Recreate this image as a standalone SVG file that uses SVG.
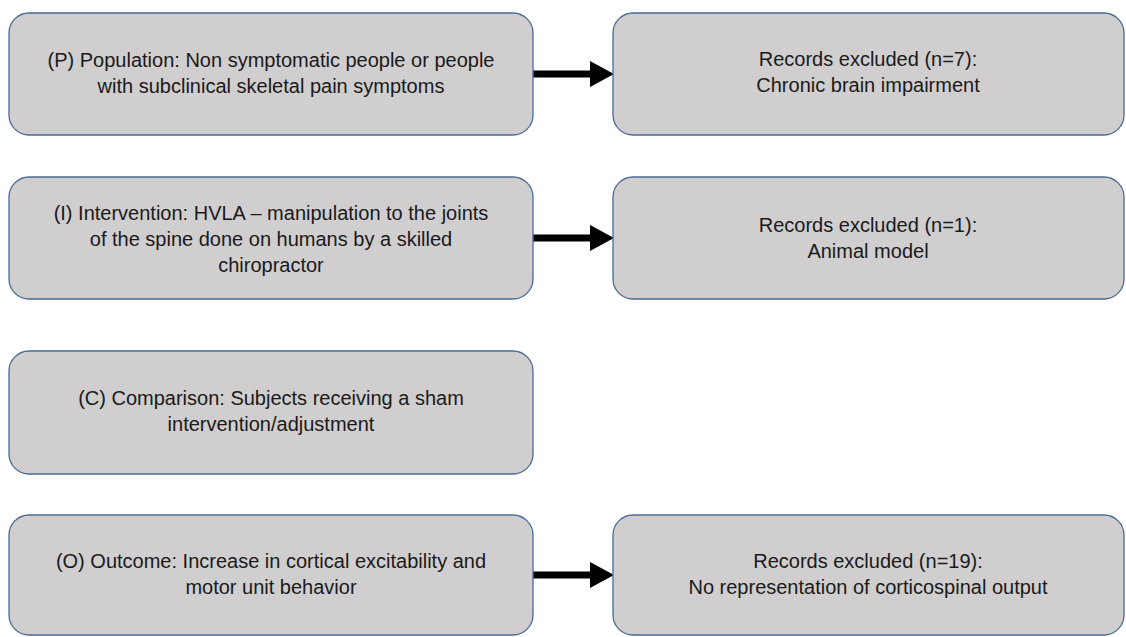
<svg xmlns="http://www.w3.org/2000/svg" width="1126" height="637" viewBox="0 0 1126 637">
<style>
.box{fill:#d0cece;stroke:#4a6a94;stroke-width:1.3}
.t{font-family:"Liberation Sans",Arial,sans-serif;font-size:20px;fill:#1a1a1a;text-anchor:middle}
.arr{stroke:#000;stroke-width:7;fill:none}
</style>
<defs>
<marker id="ah" markerUnits="userSpaceOnUse" markerWidth="24" markerHeight="26" refX="0" refY="13" orient="auto">
<path d="M0,0 L24,13 L0,26 Z" fill="#000"/>
</marker>
</defs>
<rect width="1126" height="637" fill="#fff"/>
<g id="connectors">
<line class="arr" x1="533" y1="74" x2="590" y2="74" marker-end="url(#ah)"/>
<line class="arr" x1="533" y1="238" x2="590" y2="238" marker-end="url(#ah)"/>
<line class="arr" x1="533" y1="575" x2="590" y2="575" marker-end="url(#ah)"/>
</g>
<g id="nodeP">
<rect class="box" x="9" y="13" width="524" height="122" rx="20"/>
<text class="t" x="271" y="67">(P) Population: Non symptomatic people or people</text>
<text class="t" x="271" y="93">with subclinical skeletal pain symptoms</text>
</g>
<g id="nodeP_ex">
<rect class="box" x="613" y="13" width="511" height="122" rx="20"/>
<text class="t" x="868" y="66">Records excluded (n=7):</text>
<text class="t" x="868" y="92">Chronic brain impairment</text>
</g>
<g id="nodeI">
<rect class="box" x="9" y="177" width="524" height="122" rx="20"/>
<text class="t" x="271" y="220">(I) Intervention: HVLA – manipulation to the joints</text>
<text class="t" x="271" y="246">of the spine done on humans by a skilled</text>
<text class="t" x="271" y="272">chiropractor</text>
</g>
<g id="nodeI_ex">
<rect class="box" x="613" y="177" width="511" height="122" rx="20"/>
<text class="t" x="868" y="232">Records excluded (n=1):</text>
<text class="t" x="868" y="258">Animal model</text>
</g>
<g id="nodeC">
<rect class="box" x="9" y="351" width="524" height="123" rx="20"/>
<text class="t" x="271" y="405">(C) Comparison: Subjects receiving a sham</text>
<text class="t" x="271" y="431">intervention/adjustment</text>
</g>
<g id="nodeO">
<rect class="box" x="9" y="515" width="524" height="120" rx="20"/>
<text class="t" x="271" y="568">(O) Outcome: Increase in cortical excitability and</text>
<text class="t" x="271" y="594">motor unit behavior</text>
</g>
<g id="nodeO_ex">
<rect class="box" x="613" y="515" width="511" height="120" rx="20"/>
<text class="t" x="868" y="568">Records excluded (n=19):</text>
<text class="t" x="868" y="594">No representation of corticospinal output</text>
</g>
</svg>
